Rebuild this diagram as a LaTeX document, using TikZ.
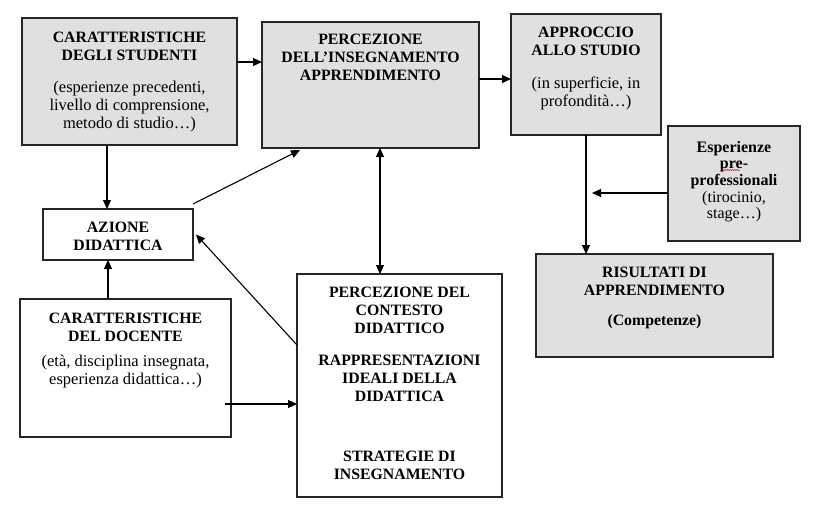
\documentclass[tikz,border=0pt]{standalone}
\usepackage{fontspec}
\setmainfont{Liberation Serif}
\usetikzlibrary{arrows.meta,decorations.pathmorphing}
\begin{document}
\begin{tikzpicture}[x=1pt,y=-1pt,
  box/.style={draw=black!85, line width=1.3pt, inner sep=0pt, outer sep=0pt, anchor=north west},
  gbox/.style={box, fill=black!12},
  wbox/.style={box, fill=white},
  txt/.style={anchor=north, align=center, inner sep=0pt, font=\fontsize{16.5}{17.9}\selectfont},
  hd/.style={txt, font=\fontsize{15.8}{17.9}\selectfont\bfseries},
  arr/.style={line width=1.1pt, -{Triangle[length=9pt,width=8pt]}},
  darr/.style={line width=1.1pt, {Triangle[length=9pt,width=8pt]}-{Triangle[length=9pt,width=8pt]}}]
\useasboundingbox (0,0) rectangle (817,509);
% boxes
\node[gbox, minimum width=215pt, minimum height=127pt] (A) at (22,18) {};
\node[gbox, minimum width=217pt, minimum height=126pt] (B) at (262,22) {};
\node[gbox, minimum width=150pt, minimum height=121pt] (C) at (511,14) {};
\node[gbox, minimum width=132pt, minimum height=115pt] (D) at (668,126) {};
\node[gbox, minimum width=237pt, minimum height=103pt] (E) at (536,254) {};
\node[wbox, minimum width=150pt, minimum height=51pt] (F) at (43,209) {};
\node[wbox, minimum width=211pt, minimum height=138pt] (G) at (20,299) {};
\node[wbox, minimum width=205pt, minimum height=223pt] (H) at (297,274) {};
% texts
\node[hd] (Ah) at ([yshift=-13.7pt]A.north) {CARATTERISTICHE\\DEGLI STUDENTI};
\node[txt] (Ap) at ([yshift=-63pt]A.north) {(esperienze precedenti,\\livello di comprensione,\\metodo di studio…)};
\node[hd] (Bh) at ([yshift=-12.3pt]B.north) {PERCEZIONE\\DELL’INSEGNAMENTO\\APPRENDIMENTO};
\node[hd] (Ch) at ([yshift=-13pt]C.north) {APPROCCIO\\ALLO STUDIO};
\node[txt] (Cp) at ([yshift=-62.5pt]C.north) {(in superficie, in\\profondità…)};
\node[txt, font=\fontsize{16}{16.7}\selectfont] (Dt) at ([yshift=-14.7pt]D.north) {\textbf{Esperienze}\\\textbf{pre-}\\\textbf{professionali}\\(tirocinio,\\stage…)};
\node[hd] (Eh) at ([yshift=-13pt]E.north) {RISULTATI DI\\APPRENDIMENTO};
\node[hd] (Ep) at ([yshift=-60.5pt]E.north) {(Competenze)};
\node[hd] (Fh) at ([yshift=-13pt]F.north) {AZIONE\\DIDATTICA};
\node[hd] (Gh) at ([yshift=-13.7pt]G.north) {CARATTERISTICHE\\DEL DOCENTE};
\node[txt] (Gp) at ([yshift=-55.5pt]G.north) {(età, disciplina insegnata,\\esperienza didattica…)};
\node[hd] (H1) at ([yshift=-12.7pt]H.north) {PERCEZIONE DEL\\CONTESTO\\DIDATTICO};
\node[hd] (H2) at ([yshift=-81pt]H.north) {RAPPRESENTAZIONI\\IDEALI DELLA\\DIDATTICA};
\node[hd] (H3) at ([yshift=-177pt]H.north) {STRATEGIE DI\\INSEGNAMENTO};
% spelling mark under "pre"
\draw[red!80!black, line width=0.5pt, decorate, decoration={snake, amplitude=0.5pt, segment length=2.4pt}]
  ([xshift=54pt,yshift=-44pt]D.north west) -- ([xshift=72pt,yshift=-44pt]D.north west);
% connectors
\coordinate (ab) at ([yshift=-44pt]A.north east);
\draw[arr] (ab) -- (ab -| B.west);
\coordinate (af) at ([xshift=-11pt]F.north);
\draw[arr] (af |- A.south) -- (af);
\coordinate (gf) at ([xshift=-10pt]F.south);
\draw[arr] (gf |- G.north) -- (gf);
\draw[arr] ([yshift=5pt]F.north east) -- ([xshift=38pt,yshift=-2pt]B.south west);
\coordinate (bh) at ([xshift=9.5pt]B.south);
\draw[darr] (bh) -- (bh |- H.north);
\draw[arr] ([yshift=-71pt]H.north west) -- ([xshift=3pt]F.east);
\coordinate (gh) at ([xshift=-6pt,yshift=-105pt]G.north east);
\draw[arr] (gh) -- (gh -| H.west);
\coordinate (bc) at ([yshift=-57pt]B.north east);
\draw[arr] (bc) -- (bc -| C.west);
\draw[arr] (C.south) -- (C.south |- E.north);
\coordinate (d1) at ([yshift=-67pt]D.north west);
\coordinate (d2) at (d1 -| C.south);
\draw[arr] (d1) -- ([xshift=6pt]d2);
\end{tikzpicture}
\end{document}
